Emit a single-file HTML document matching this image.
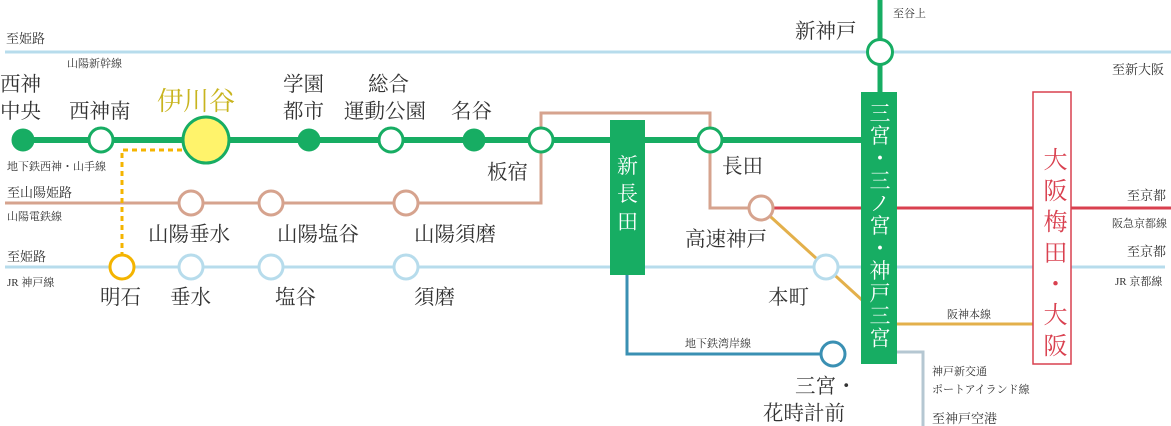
<!DOCTYPE html>
<html><head><meta charset="utf-8"><style>
html,body{margin:0;padding:0;background:#fff;}
svg{display:block;}
text{font-family:"Liberation Serif","Noto Serif CJK SC",serif;fill:#333;}
.s{font-size:11px;}
.m{font-size:13px;}
.l{font-size:20.5px;}
</style></head><body>
<svg width="1171" height="426" viewBox="0 0 1171 426" xmlns="http://www.w3.org/2000/svg">
<line x1="5" y1="52" x2="1171" y2="52" stroke="#b7dcec" stroke-width="3"/>
<line x1="880" y1="0" x2="880" y2="92" stroke="#17ad63" stroke-width="5"/>
<polyline points="5,203 541,203 541,113 710,113 710,208 761,208" fill="none" stroke="#d6a38e" stroke-width="3"/>
<line x1="761" y1="208" x2="1171" y2="208" stroke="#d9404f" stroke-width="3"/>
<line x1="5" y1="267" x2="1165" y2="267" stroke="#b7dcec" stroke-width="3"/>
<line x1="761" y1="208" x2="862" y2="300" stroke="#e3b04b" stroke-width="3"/>
<line x1="897" y1="324" x2="1033" y2="324" stroke="#e3b04b" stroke-width="3"/>
<polyline points="627,270 627,354 833,354" fill="none" stroke="#3a90b3" stroke-width="3"/>
<polyline points="897,352 923,352 923,426" fill="none" stroke="#b5c7d2" stroke-width="3"/>
<line x1="23" y1="140" x2="862" y2="140" stroke="#17ad63" stroke-width="6"/>
<polyline points="182,150 122,150 122,255" fill="none" stroke="#f4b400" stroke-width="3" stroke-dasharray="5,4"/>
<rect x="610" y="120" width="35" height="155" fill="#17ad63"/>
<rect x="861" y="92" width="36" height="272" fill="#17ad63"/>
<rect x="1033" y="92" width="38" height="272" fill="#fff" stroke="#d9404f" stroke-width="1.5"/>
<g stroke-width="3">
<circle cx="880" cy="52" r="12.5" fill="#fff" stroke="#17ad63"/>
<circle cx="23" cy="140" r="10" fill="#17ad63" stroke="#17ad63"/>
<circle cx="101" cy="140" r="12" fill="#fff" stroke="#17ad63"/>
<circle cx="206" cy="140" r="23" fill="#fff36b" stroke="#17ad63"/>
<circle cx="309" cy="140" r="10" fill="#17ad63" stroke="#17ad63"/>
<circle cx="391" cy="140" r="12" fill="#fff" stroke="#17ad63"/>
<circle cx="474" cy="140" r="10" fill="#17ad63" stroke="#17ad63"/>
<circle cx="541" cy="140" r="12" fill="#fff" stroke="#17ad63"/>
<circle cx="710" cy="140" r="12" fill="#fff" stroke="#17ad63"/>
<circle cx="191" cy="203" r="12" fill="#fff" stroke="#d6a38e"/>
<circle cx="271" cy="203" r="12" fill="#fff" stroke="#d6a38e"/>
<circle cx="406" cy="203" r="12" fill="#fff" stroke="#d6a38e"/>
<circle cx="761" cy="208" r="12" fill="#fff" stroke="#d6a38e"/>
<circle cx="122" cy="267" r="12" fill="#fff" stroke="#f4b400"/>
<circle cx="191" cy="267" r="12" fill="#fff" stroke="#b7dcec"/>
<circle cx="271" cy="267" r="12" fill="#fff" stroke="#b7dcec"/>
<circle cx="406" cy="267" r="12" fill="#fff" stroke="#b7dcec"/>
<circle cx="826" cy="267" r="12" fill="#fff" stroke="#b7dcec"/>
<circle cx="833" cy="354" r="12" fill="#fff" stroke="#3a90b3"/>
</g>
<text class="m" x="6" y="43">至姫路</text>
<text class="s" x="67" y="67">山陽新幹線</text>
<text class="s" x="7" y="170">地下鉄西神・山手線</text>
<text class="m" x="7" y="197">至山陽姫路</text>
<text class="s" x="7" y="220">山陽電鉄線</text>
<text class="m" x="7" y="261">至姫路</text>
<text class="s" x="7" y="286">JR 神戸線</text>
<text class="s" x="893" y="17">至谷上</text>
<text class="m" x="1112" y="74">至新大阪</text>
<text class="m" x="1127" y="200">至京都</text>
<text class="s" x="1112" y="227">阪急京都線</text>
<text class="m" x="1127" y="256">至京都</text>
<text class="s" x="1115" y="285">JR 京都線</text>
<text class="s" x="947" y="318">阪神本線</text>
<text class="s" x="685" y="347">地下鉄湾岸線</text>
<text class="s" x="932" y="375">神戸新交通</text>
<text class="s" x="932" y="393">ポートアイランド線</text>
<text class="m" x="932" y="423">至神戸空港</text>
<text class="l" x="0" y="91">西神</text>
<text class="l" x="0" y="118">中央</text>
<text class="l" x="69" y="118">西神南</text>
<text x="157" y="110" style="font-size:26px;fill:#c8b41e">伊川谷</text>
<text class="l" x="283" y="91">学園</text>
<text class="l" x="283" y="118">都市</text>
<text class="l" x="368" y="91">総合</text>
<text class="l" x="344" y="118">運動公園</text>
<text class="l" x="451" y="118">名谷</text>
<text class="l" x="487" y="179">板宿</text>
<text class="l" x="722" y="173">長田</text>
<text class="l" x="148" y="241">山陽垂水</text>
<text class="l" x="277" y="241">山陽塩谷</text>
<text class="l" x="414" y="241">山陽須磨</text>
<text class="l" x="685" y="246">高速神戸</text>
<text class="l" x="100" y="304">明石</text>
<text class="l" x="170" y="304">垂水</text>
<text class="l" x="275" y="304">塩谷</text>
<text class="l" x="414" y="304">須磨</text>
<text class="l" x="768" y="304">本町</text>
<text class="l" x="795" y="393">三宮・</text>
<text class="l" x="763" y="420">花時計前</text>
<text class="l" x="795" y="38">新神戸</text>
<text x="627.5" y="173" text-anchor="middle" style="font-size:21px;fill:#fff">新</text>
<text x="627.5" y="201" text-anchor="middle" style="font-size:21px;fill:#fff">長</text>
<text x="627.5" y="229" text-anchor="middle" style="font-size:21px;fill:#fff">田</text>
<text x="879" y="102" style="font-size:21px;fill:#fff;writing-mode:vertical-rl;letter-spacing:1.5px">三宮・三ノ宮・神戸三宮</text>
<text x="1052" y="147" style="font-size:24px;fill:#d9404f;writing-mode:vertical-rl;letter-spacing:7px">大阪梅田・大阪</text>
</svg>
</body></html>
